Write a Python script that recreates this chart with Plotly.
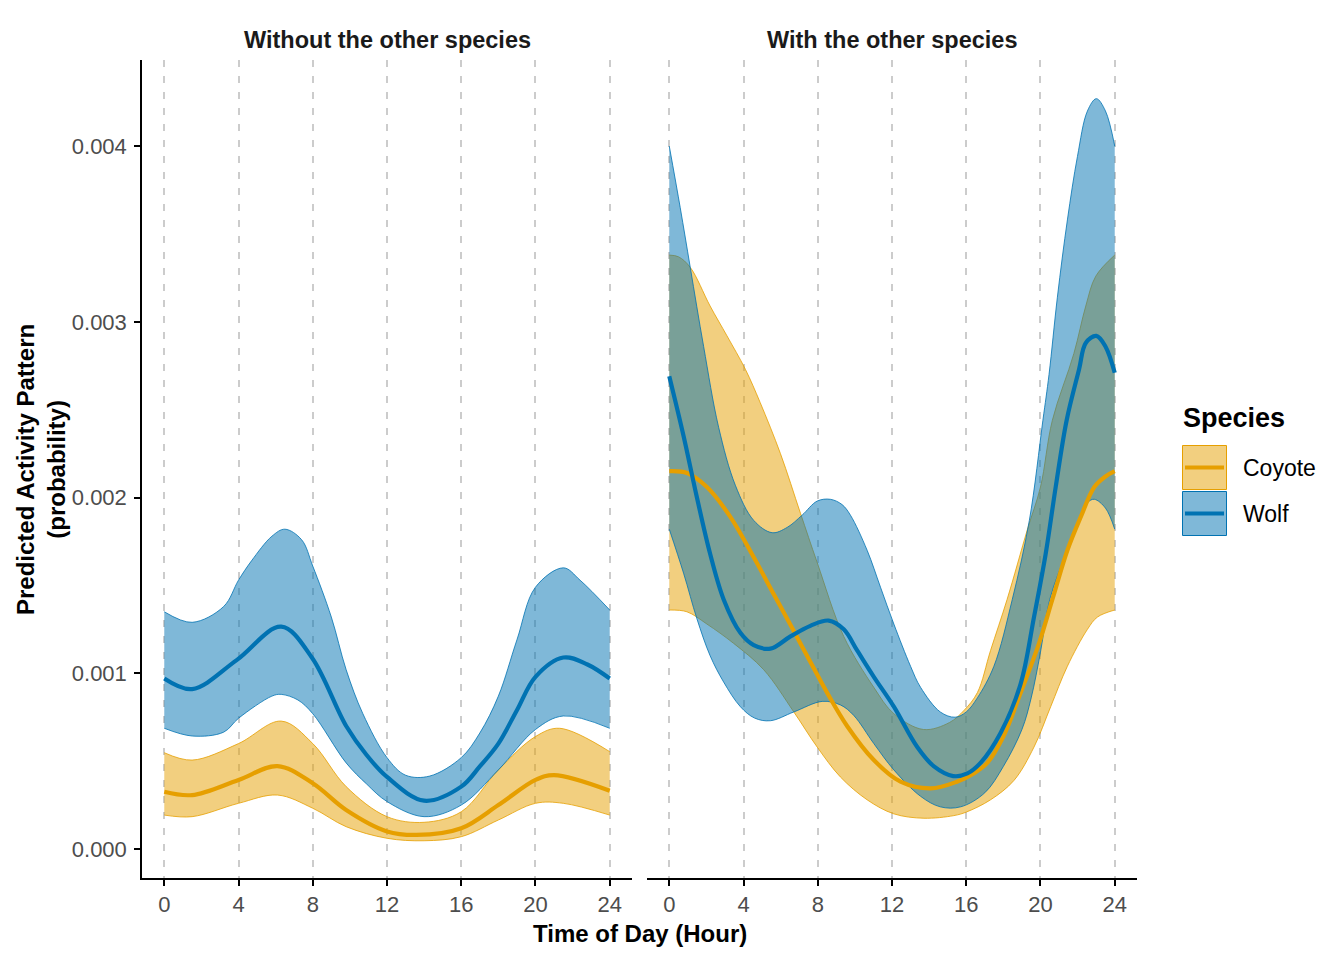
import plotly.graph_objects as go

# ---------------- data ----------------
# Panel 1: "Without the other species"
coyote_alone_mean_h = [0, 1.5, 4, 6.1, 8, 9.8, 12, 13.6, 16, 18, 20, 21, 24]
coyote_alone_mean = [0.000326, 0.000307, 0.000393, 0.000472, 0.000374, 0.000222, 0.0001, 0.00008,
                     0.000118, 0.00025, 0.000393, 0.000421, 0.000332]
coyote_alone_upper_h = [0, 1.5, 4, 6.3, 8, 9.8, 12, 14, 16, 18, 20, 21.3, 24]
coyote_alone_upper = [0.000548, 0.000506, 0.0006, 0.000728, 0.0006, 0.000355, 0.000184, 0.000152,
                      0.000212, 0.00045, 0.00064, 0.000687, 0.000554]
coyote_alone_lower_h = [0, 1.5, 4, 6.1, 8, 9.8, 12, 14, 16, 18, 20, 21.5, 24]
coyote_alone_lower = [0.000193, 0.000184, 0.00026, 0.000307, 0.000232, 0.000127, 0.000061, 0.000047,
                      0.00007, 0.000165, 0.00026, 0.00026, 0.000193]

wolf_alone_mean_h = [0, 1.5, 3.9, 6.3, 7.95, 9.8, 10.9, 12, 14, 16, 17, 18, 19, 20, 21.5, 22.8, 24]
wolf_alone_mean = [0.00097, 0.00091, 0.001075, 0.001265, 0.00109, 0.0007, 0.000535, 0.00041,
                   0.000275, 0.000355, 0.00047, 0.0006, 0.00079, 0.00098, 0.00109, 0.00105, 0.00097]
wolf_alone_upper_h = [0, 1.5, 3.2, 4, 4.7, 5.8, 6.5, 7.4, 8, 9, 9.8, 10.7, 12, 13, 14.3, 16, 17, 18,
                      19, 20, 21.5, 22.4, 24]
wolf_alone_upper = [0.00135, 0.00129, 0.00138, 0.00153, 0.00164, 0.00178, 0.00182, 0.00176, 0.00161,
                    0.00132, 0.00102, 0.00077, 0.00052, 0.00042, 0.000415, 0.00052, 0.00066, 0.00087,
                    0.00119, 0.00149, 0.0016, 0.00153, 0.00136]
wolf_alone_lower_h = [0, 1.5, 3.2, 4, 5.8, 6.3, 7.2, 8, 9.8, 10.9, 12, 14, 16, 18, 20, 21.5, 24]
wolf_alone_lower = [0.000687, 0.000643, 0.000665, 0.000744, 0.00087, 0.00088, 0.000848, 0.00077,
                    0.00049, 0.00037, 0.00027, 0.000184, 0.00025, 0.00045, 0.00068, 0.000757, 0.000687]

# Panel 2: "With the other species"
coyote_with_mean_h = [0, 0.95, 2.03, 3.29, 4.55, 5.63, 6.71, 7.88, 8.5, 9.58, 11.02, 12.46, 14.08, 15.5,
                      16.4, 17.13, 18.0, 18.9, 19.92, 20.64, 21.45, 22.17, 22.9, 23.5, 24]
coyote_with_mean = [0.00215, 0.00214, 0.00206, 0.00189, 0.00166, 0.00145, 0.00124, 0.00101, 0.00089,
                    0.0007, 0.000506, 0.000383, 0.000345, 0.000383, 0.00043, 0.00049, 0.00064, 0.00088,
                    0.00117, 0.00142, 0.0017, 0.00189, 0.00206, 0.00212, 0.00215]
coyote_with_upper_h = [0, 0.5, 1.13, 2.2, 3.11, 4.1, 4.9, 5.99, 7.07, 7.97, 9.4, 11.02, 12.1, 13.7, 15.1,
                       15.89, 16.6, 17.31, 18.2, 19.3, 20.0, 20.64, 21.8, 22.44, 22.98, 24]
coyote_with_upper = [0.00338, 0.00337, 0.00331, 0.00309, 0.00292, 0.00273, 0.00254, 0.00225, 0.00191,
                     0.00163, 0.00121, 0.00092, 0.00077, 0.00068, 0.00072, 0.00079, 0.00089, 0.00113,
                     0.00142, 0.00182, 0.00206, 0.00244, 0.00282, 0.00309, 0.00326, 0.00338]
coyote_with_lower_h = [0, 0.95, 2.03, 3.47, 5.09, 6.71, 7.97, 9.22, 10.66, 12.1, 13.72, 15.33, 16.0,
                       17.31, 18.57, 19.65, 20.55, 21.45, 22.53, 23.07, 24]
coyote_with_lower = [0.00136, 0.00135, 0.00128, 0.00117, 0.00102, 0.00078, 0.00058, 0.00041, 0.00028,
                     0.0002, 0.000175, 0.00019, 0.00021, 0.00028, 0.00039, 0.00058, 0.00081, 0.00104,
                     0.00125, 0.00132, 0.00136]

wolf_with_mean_h = [0, 0.77, 1.49, 2.2, 2.93, 3.83, 4.55, 5.45, 6.53, 7.6, 8.59, 9.4, 10.12, 11.02, 12.1,
                    13.36, 14.26, 15.3, 16.06, 16.77, 17.85, 18.93, 19.65, 20.28, 20.82, 21.41, 22.08,
                    22.44, 23.01, 23.5, 24]
wolf_with_mean = [0.00269, 0.00235, 0.0020, 0.00168, 0.00142, 0.00123, 0.00116, 0.00114, 0.00121,
                  0.00127, 0.0013, 0.00125, 0.00113, 0.00098, 0.00081, 0.00058, 0.00047, 0.000415,
                  0.00043, 0.00049, 0.00066, 0.00094, 0.00132, 0.00168, 0.00206, 0.00244, 0.00273,
                  0.00288, 0.00292, 0.00286, 0.00271]
wolf_with_upper_h = [0, 0.59, 1.13, 1.85, 2.66, 3.56, 4.55, 5.54, 6.35, 7.16, 7.97, 8.68, 9.31, 9.76,
                     10.66, 11.38, 12.1, 13.0, 13.54, 14.6, 15.4, 16, 16.6, 17.49, 18.48, 19.4, 20.13,
                     20.46, 20.91, 21.45, 21.99, 22.53, 23.01, 23.5, 24]
wolf_with_upper = [0.0040, 0.00365, 0.00331, 0.00286, 0.00240, 0.00207, 0.00187, 0.0018, 0.00183,
                   0.0019, 0.00198, 0.00199, 0.00196, 0.0019, 0.0017, 0.00149, 0.00128, 0.00104,
                   0.00092, 0.00078, 0.00075, 0.00078, 0.00086, 0.00104, 0.00142, 0.00187, 0.00244,
                   0.0027, 0.00314, 0.00358, 0.00394, 0.0042, 0.00427, 0.0042, 0.0040]
wolf_with_lower_h = [0, 0.77, 1.49, 2.2, 2.93, 3.83, 4.6, 5.45, 6.71, 8.24, 9.22, 9.94, 11.02, 12.1,
                     13.54, 14.6, 15.7, 17, 18, 19, 19.5, 20, 20.5, 21.45, 22.53, 22.9, 23.5, 24]
wolf_with_lower = [0.00182, 0.00157, 0.00131, 0.0011, 0.00095, 0.00081, 0.000745, 0.00073, 0.00078,
                   0.00084, 0.00082, 0.00076, 0.0006, 0.00045, 0.0003, 0.00024, 0.00024, 0.00032,
                   0.00047, 0.00068, 0.00086, 0.00112, 0.00142, 0.0017, 0.00197, 0.00199, 0.00194,
                   0.00182]

species = ["Coyote", "Wolf"]
panel_titles = ["Without the other species", "With the other species"]
x_ticks = [0, 4, 8, 12, 16, 20, 24]
y_ticks = [0.0, 0.001, 0.002, 0.003, 0.004]
y_tick_text = ["0.000", "0.001", "0.002", "0.003", "0.004"]

# ---------------- styling ----------------
W, H = 1344, 960
OFF = 8  # page body margin
FONT = "Liberation Sans, Arial, sans-serif"
COLORS = {"Coyote": "#E69F00", "Wolf": "#0072B2"}
FILLS = {"Coyote": "rgba(230,159,0,0.5)", "Wolf": "rgba(0,114,178,0.5)"}


def px(x):
    return (x - OFF) / W


def py(y):
    return 1 - (y - OFF) / H


fig = go.Figure()

panels = [
    ("x", "y", {
        "Coyote": (coyote_alone_mean_h, coyote_alone_mean, coyote_alone_lower_h, coyote_alone_lower,
                   coyote_alone_upper_h, coyote_alone_upper),
        "Wolf": (wolf_alone_mean_h, wolf_alone_mean, wolf_alone_lower_h, wolf_alone_lower,
                 wolf_alone_upper_h, wolf_alone_upper)}),
    ("x2", "y2", {
        "Coyote": (coyote_with_mean_h, coyote_with_mean, coyote_with_lower_h, coyote_with_lower,
                   coyote_with_upper_h, coyote_with_upper),
        "Wolf": (wolf_with_mean_h, wolf_with_mean, wolf_with_lower_h, wolf_with_lower,
                 wolf_with_upper_h, wolf_with_upper)}),
]

for xa, ya, data in panels:
    # ribbons
    for sp in species:
        mh, mv, lh, lv, uh, uv = data[sp]
        fig.add_trace(go.Scatter(x=lh, y=lv, mode="lines", xaxis=xa, yaxis=ya,
                                 line=dict(color=COLORS[sp], width=0.8, shape="spline"),
                                 showlegend=False, hoverinfo="skip"))
        fig.add_trace(go.Scatter(x=uh, y=uv, mode="lines", xaxis=xa, yaxis=ya,
                                 line=dict(color=COLORS[sp], width=0.8, shape="spline"),
                                 fill="tonexty", fillcolor=FILLS[sp],
                                 showlegend=False, hoverinfo="skip"))
    # mean lines
    for sp in species:
        mh, mv, lh, lv, uh, uv = data[sp]
        fig.add_trace(go.Scatter(x=mh, y=mv, mode="lines", xaxis=xa, yaxis=ya, name=sp,
                                 line=dict(color=COLORS[sp], width=4.2, shape="spline"),
                                 showlegend=False))

xaxis_common = dict(
    range=[-1.2, 25.2], tickmode="array", tickvals=x_ticks,
    showgrid=True, gridcolor="#cccccc", gridwidth=2, griddash="7px,9px",
    showline=True, linecolor="black", linewidth=1.5,
    ticks="outside", ticklen=6, tickwidth=1.5, tickcolor="black",
    tickfont=dict(family=FONT, size=22, color="#4d4d4d"),
    zeroline=False, fixedrange=True,
)
ydom = [py(878), py(60)]
fig.update_layout(
    width=W, height=H,
    margin=dict(l=0, r=0, t=0, b=0),
    paper_bgcolor="white", plot_bgcolor="white",
    showlegend=False,
    xaxis=dict(domain=[px(142), px(632)], anchor="y", **xaxis_common),
    xaxis2=dict(domain=[px(647), px(1137)], anchor="y2", **xaxis_common),
    yaxis=dict(domain=ydom, anchor="x", range=[-0.000165, 0.00449],
               tickmode="array", tickvals=y_ticks, ticktext=y_tick_text,
               showgrid=False, zeroline=False,
               showline=True, linecolor="black", linewidth=1.5,
               ticks="outside", ticklen=6, tickwidth=1.5, tickcolor="black",
               ticklabelstandoff=3,
               tickfont=dict(family=FONT, size=22, color="#4d4d4d")),
    yaxis2=dict(domain=ydom, anchor="x2", matches="y", range=[-0.000165, 0.00449],
                showgrid=False, zeroline=False, showline=False,
                showticklabels=False, ticks=""),
)

annotations = []
# strip titles
for title, cx in zip(panel_titles, [387, 892]):
    annotations.append(dict(x=px(cx), y=py(40), xref="paper", yref="paper", text=f"<b>{title}</b>",
                            showarrow=False, xanchor="center", yanchor="middle",
                            font=dict(family=FONT, size=23.5, color="#1a1a1a")))
# axis titles
annotations.append(dict(x=px(639.5), y=py(933), xref="paper", yref="paper",
                        text="<b>Time of Day (Hour)</b>", showarrow=False,
                        xanchor="center", yanchor="middle",
                        font=dict(family=FONT, size=24, color="black")))
annotations.append(dict(x=px(41), y=py(470), xref="paper", yref="paper",
                        text="<b>Predicted Activity Pattern</b><br><b>(probability)</b>",
                        showarrow=False, textangle=-90, xanchor="center", yanchor="middle",
                        font=dict(family=FONT, size=24, color="black")))
# legend
annotations.append(dict(x=px(1181), y=py(418), xref="paper", yref="paper", text="<b>Species</b>",
                        showarrow=False, xanchor="left", yanchor="middle",
                        font=dict(family=FONT, size=27, color="black")))
shapes = []
for i, sp in enumerate(species):
    top = 445.5 + i * 46
    shapes.append(dict(type="rect", xref="paper", yref="paper",
                       x0=px(1182.5), x1=px(1226.5), y0=py(top), y1=py(top + 44),
                       fillcolor=FILLS[sp], line=dict(color=COLORS[sp], width=1)))
    shapes.append(dict(type="line", xref="paper", yref="paper",
                       x0=px(1185), x1=px(1224), y0=py(top + 22), y1=py(top + 22),
                       line=dict(color=COLORS[sp], width=4)))
    annotations.append(dict(x=px(1241), y=py(top + 22), xref="paper", yref="paper", text=sp,
                            showarrow=False, xanchor="left", yanchor="middle",
                            font=dict(family=FONT, size=23, color="black")))

fig.update_layout(annotations=annotations, shapes=shapes)
fig.write_html("out.html")
